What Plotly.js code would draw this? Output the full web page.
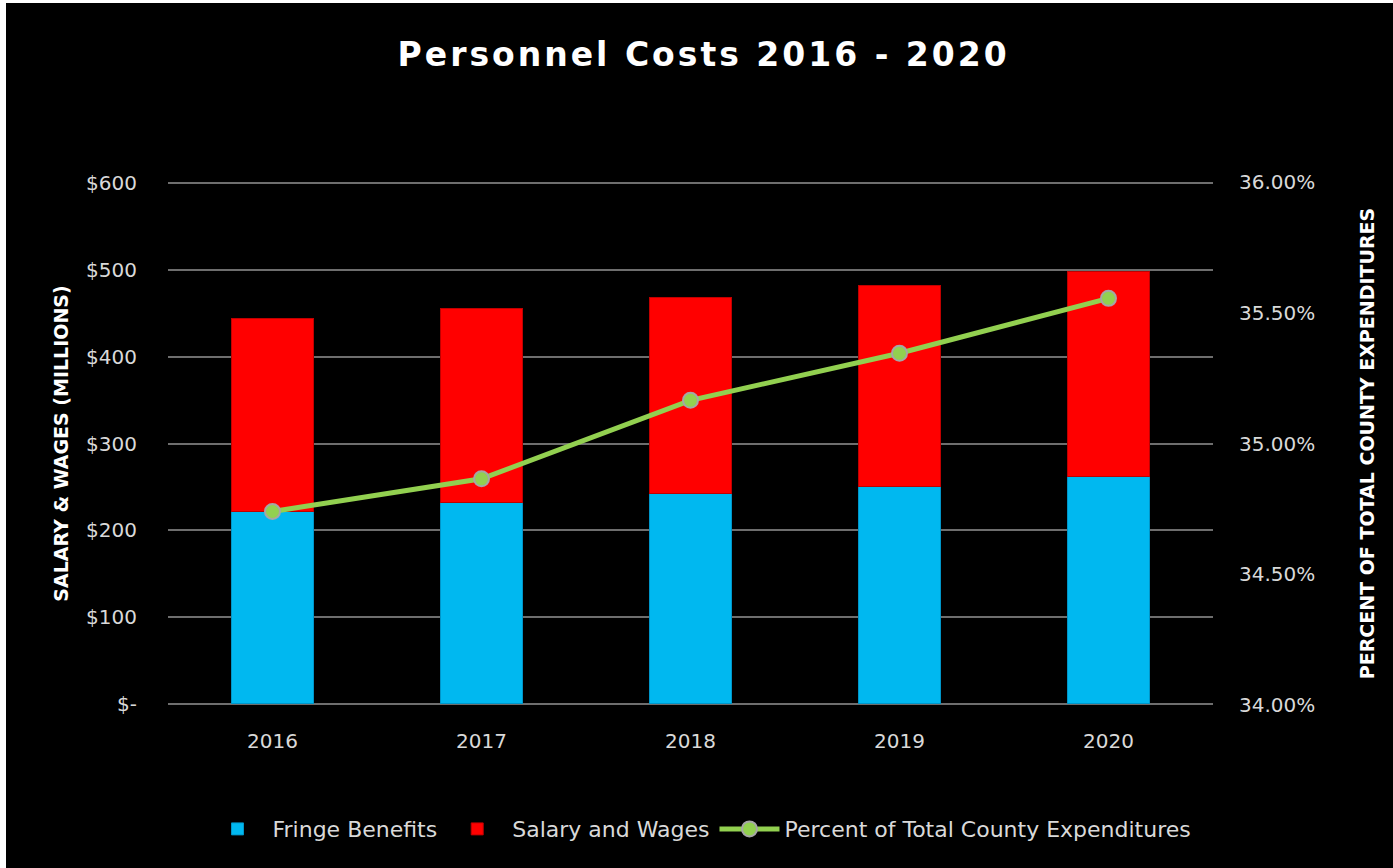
<!DOCTYPE html>
<html>
<head>
<meta charset="utf-8">
<script src="https://cdn.plot.ly/plotly-3.0.1.min.js"></script>
<style>
  html, body { margin: 0; padding: 0; background: #ffffff; overflow: hidden; }
  #chart { position: absolute; left: 6px; top: 3px; width: 1387px; height: 865px; background: #000; }
  #chart .gtitle { letter-spacing: 3px; }
</style>
</head>
<body>
<div id="chart"></div>
<script>
const years = ['2016', '2017', '2018', '2019', '2020'];
const fringeBenefits = [222, 232, 242, 251, 262];
const salaryWages = [222, 223, 226, 231, 236];
const percentOfTotal = [34.74, 34.865, 35.165, 35.345, 35.555];
const leftTickVals = [0, 100, 200, 300, 400, 500, 600];
const leftTickText = ['$-', '$100', '$200', '$300', '$400', '$500', '$600'];
const rightTickVals = [34, 34.5, 35, 35.5, 36];
const rightTickText = ['34.00%', '34.50%', '35.00%', '35.50%', '36.00%'];

const FONT = 'DejaVu Sans, sans-serif';
const tickFont = { family: FONT, size: 20, color: '#d9d9d9' };

const traces = [
  {
    type: 'bar', name: 'Fringe Benefits', x: years, y: fringeBenefits,
    marker: { color: '#00b8f0', line: { color: '#0095c8', width: 1 } },
    hoverinfo: 'x+y+name'
  },
  {
    type: 'bar', name: 'Salary and Wages', x: years, y: salaryWages,
    marker: { color: '#ff0000', line: { color: '#c00000', width: 1 } },
    hoverinfo: 'x+y+name'
  },
  {
    type: 'scatter', mode: 'lines+markers', name: 'Percent of Total County Expenditures',
    x: years, y: percentOfTotal, yaxis: 'y2',
    line: { color: '#92d050', width: 5 },
    marker: { color: '#92d050', size: 15, line: { color: '#a6a6a6', width: 2 } }
  }
];

const layout = {
  barmode: 'stack',
  bargap: 0.61,
  paper_bgcolor: '#000000',
  plot_bgcolor: '#000000',
  margin: { l: 162, r: 180, t: 179, b: 163 },
  showlegend: true,
  title: {
    text: 'Personnel Costs 2016 - 2020',
    font: { family: FONT, size: 33, color: '#ffffff', weight: 'bold' },
    x: 0.503, xref: 'container', xanchor: 'center',
    y: 0.94, yref: 'container', yanchor: 'middle'
  },
  xaxis: {
    type: 'category',
    tickfont: tickFont,
    showgrid: false, showline: false, zeroline: false,
    ticks: '', ticklabelstandoff: 22
  },
  yaxis: {
    range: [-1.2, 601.2],
    tickvals: leftTickVals, ticktext: leftTickText,
    tickfont: tickFont,
    showgrid: true, gridcolor: '#6e6e6e', gridwidth: 2,
    zeroline: false, showline: false, ticks: '',
    ticklabelstandoff: 30,
    title: {
      text: 'SALARY & WAGES (MILLIONS)',
      font: { family: FONT, size: 19, color: '#ffffff', weight: 'bold' },
      standoff: 12
    }
  },
  yaxis2: {
    overlaying: 'y', side: 'right',
    range: [34, 36],
    tickvals: rightTickVals, ticktext: rightTickText,
    tickfont: tickFont,
    showgrid: false, zeroline: false, showline: false, ticks: '',
    ticklabelstandoff: 25,
    title: {
      text: 'PERCENT OF TOTAL COUNTY EXPENDITURES',
      font: { family: FONT, size: 19, color: '#ffffff', weight: 'bold' },
      standoff: 46
    }
  },
  legend: {
    orientation: 'h',
    xref: 'container', yref: 'container',
    x: 0.500, xanchor: 'center',
    y: 0.045, yanchor: 'middle',
    itemwidth: 60,
    font: { family: FONT, size: 22, color: '#d9d9d9' },
    bgcolor: 'rgba(0,0,0,0)',
    traceorder: 'normal'
  }
};

Plotly.newPlot('chart', traces, layout, { displayModeBar: false, responsive: false });
</script>
</body>
</html>
